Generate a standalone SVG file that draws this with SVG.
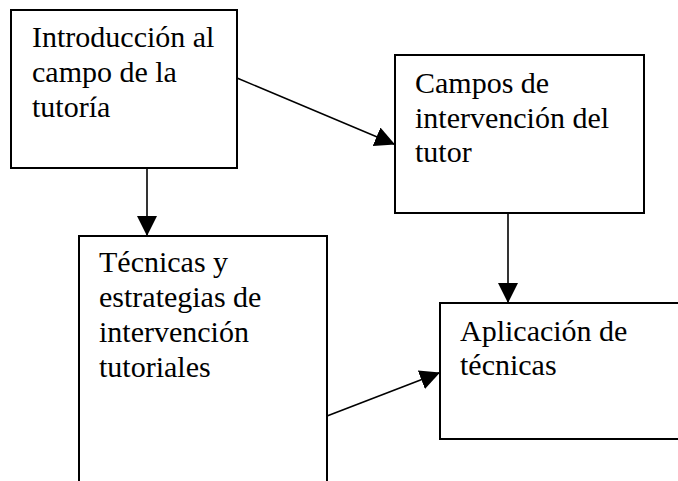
<svg xmlns="http://www.w3.org/2000/svg" width="678" height="481" viewBox="0 0 678 481">
<defs>
<style>
.box{fill:#fff;stroke:#000;stroke-width:2}
.lbl{font-family:"Liberation Serif","Times New Roman",serif;font-size:30px;fill:#000}
.con{stroke:#000;stroke-width:1.6;fill:none;marker-end:url(#ah)}
</style>
<marker id="ah" viewBox="0 0 20 20" markerWidth="20" markerHeight="20" markerUnits="userSpaceOnUse" refX="20" refY="10" orient="auto">
<path d="M0,0 L20,10 L0,20 z" fill="#000"/>
</marker>
</defs>
<rect width="678" height="481" fill="#fff"/>
<g id="n1">
<rect class="box" x="11" y="10" width="226" height="158"/>
<text class="lbl" x="32" y="47">Introducción al</text>
<text class="lbl" x="32" y="82">campo de la</text>
<text class="lbl" x="32" y="117">tutoría</text>
</g>
<g id="n2">
<rect class="box" x="395" y="55" width="249" height="158"/>
<text class="lbl" x="415" y="93">Campos de</text>
<text class="lbl" x="415" y="127.5">intervención del</text>
<text class="lbl" x="415" y="162">tutor</text>
</g>
<g id="n3">
<rect class="box" x="79" y="236" width="248" height="260"/>
<text class="lbl" x="99" y="272">Técnicas y</text>
<text class="lbl" x="99" y="307">estrategias de</text>
<text class="lbl" x="99" y="342">intervención</text>
<text class="lbl" x="99" y="377">tutoriales</text>
</g>
<g id="n4">
<rect class="box" x="440" y="303" width="260" height="136"/>
<text class="lbl" x="460" y="341">Aplicación de</text>
<text class="lbl" x="460" y="375">técnicas</text>
</g>
<g id="connectors">
<line class="con" x1="237" y1="78" x2="395" y2="144.5"/>
<line class="con" x1="147" y1="168" x2="147" y2="236"/>
<line class="con" x1="508" y1="213" x2="508" y2="303"/>
<line class="con" x1="327" y1="416" x2="440" y2="372.5"/>
</g>
</svg>
